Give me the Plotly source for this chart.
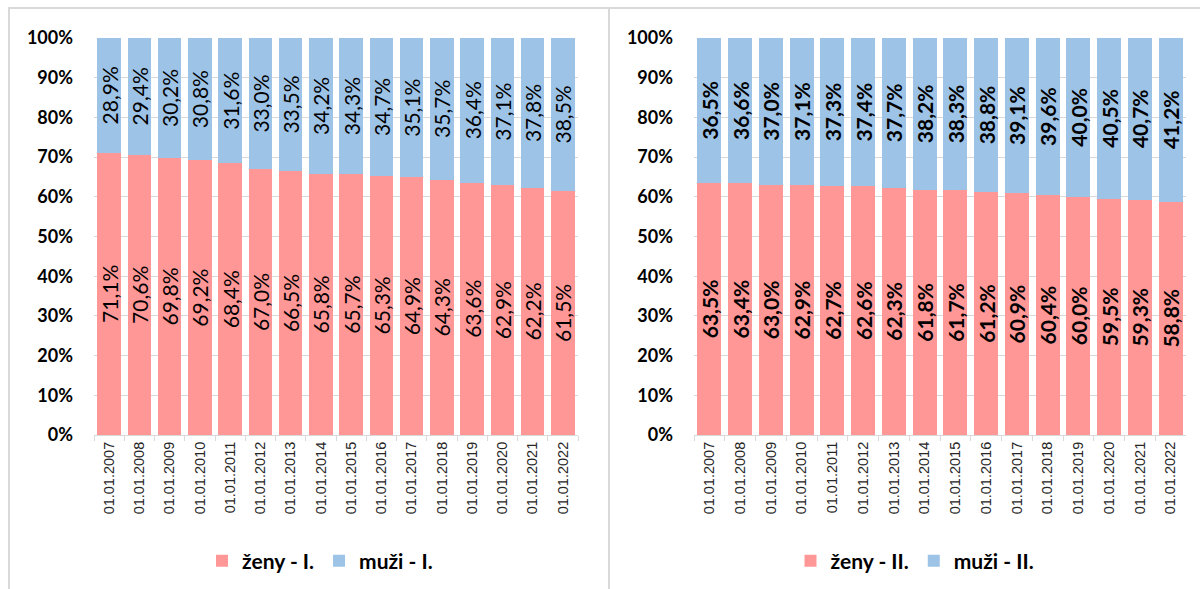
import plotly.graph_objects as go

dates = ["01.01.%d" % y for y in range(2007, 2023)]

zeny_I = [71.1, 70.6, 69.8, 69.2, 68.4, 67.0, 66.5, 65.8, 65.7, 65.3, 64.9, 64.3, 63.6, 62.9, 62.2, 61.5]
muzi_I = [28.9, 29.4, 30.2, 30.8, 31.6, 33.0, 33.5, 34.2, 34.3, 34.7, 35.1, 35.7, 36.4, 37.1, 37.8, 38.5]
zeny_II = [63.5, 63.4, 63.0, 62.9, 62.7, 62.6, 62.3, 61.8, 61.7, 61.2, 60.9, 60.4, 60.0, 59.5, 59.3, 58.8]
muzi_II = [36.5, 36.6, 37.0, 37.1, 37.3, 37.4, 37.7, 38.2, 38.3, 38.8, 39.1, 39.6, 40.0, 40.5, 40.7, 41.2]

PINK = "#FF9797"
BLUE = "#9DC3E6"
GRID = "#D9D9D9"
FONT = "Lato"
W, H = 1200, 589


def px(x):
    return x / W


def py(y):
    return 1 - y / H


def lab(vals):
    return [("%.1f%%" % v).replace(".", ",") for v in vals]


fig = go.Figure()


def add(vals, name, color, xa, ya, legend, bold):
    fig.add_trace(go.Bar(
        x=dates, y=[v / 100 for v in vals], name=name,
        marker=dict(color=color, line=dict(width=0)),
        text=lab(vals), textposition="inside", insidetextanchor="middle",
        textangle=-90, cliponaxis=False,
        textfont=dict(family=FONT, size=21, color="black",
                      weight="bold" if bold else "normal"),
        xaxis=xa, yaxis=ya, legend=legend, hoverinfo="skip",
    ))


add(zeny_I, "ženy - I.", PINK, "x", "y", "legend", False)
add(muzi_I, "muži - I.", BLUE, "x", "y", "legend", False)
add(zeny_II, "ženy - II.", PINK, "x2", "y2", "legend2", True)
add(muzi_II, "muži - II.", BLUE, "x2", "y2", "legend2", True)

ydom = [py(435), py(38)]
xcommon = dict(
    type="category", showgrid=False, showline=True, linecolor=GRID, linewidth=1,
    ticks="outside", tickson="boundaries", ticklen=5, tickcolor=GRID,
    tickangle=-90, tickfont=dict(family="Liberation Sans", size=14.5, color="#262626"),
    zeroline=False, automargin=False,
)
ycommon = dict(
    range=[0, 1], tickvals=[i / 10 for i in range(11)], tickformat=".0%",
    showgrid=True, gridcolor=GRID, gridwidth=1, zeroline=False, showline=False,
    ticks="", ticklabelstandoff=20, automargin=False,
    tickfont=dict(family=FONT, size=18, color="black", weight="bold"),
)

legfont = dict(family=FONT, size=21, color="black", weight="bold")

fig.update_layout(
    width=W, height=H, margin=dict(l=0, r=0, t=0, b=0, autoexpand=False),
    paper_bgcolor="white", plot_bgcolor="white",
    barmode="stack", bargap=0.22, separators=", ",
    xaxis=dict(domain=[px(94), px(578)], anchor="y", **xcommon),
    yaxis=dict(domain=ydom, anchor="x", **ycommon),
    xaxis2=dict(domain=[px(694), px(1186)], anchor="y2", **xcommon),
    yaxis2=dict(domain=ydom, anchor="x2", **ycommon),
    legend=dict(orientation="h", x=px(320), y=py(561), xanchor="center", yanchor="middle",
                font=legfont, traceorder="normal",
                itemclick=False, bgcolor="rgba(0,0,0,0)"),
    legend2=dict(orientation="h", x=px(915), y=py(561), xanchor="center", yanchor="middle",
                 font=legfont, traceorder="normal",
                 itemclick=False, bgcolor="rgba(0,0,0,0)"),
    uniformtext=dict(minsize=21, mode="show"),
    showlegend=True,
    shapes=[
        dict(type="rect", xref="paper", yref="paper", x0=px(9), x1=px(609), y0=py(600), y1=py(8),
             line=dict(color=GRID, width=2), layer="below"),
        dict(type="rect", xref="paper", yref="paper", x0=px(609), x1=px(1210), y0=py(600), y1=py(8),
             line=dict(color=GRID, width=2), layer="below"),
    ],
)

fig.write_html("out.html", config={"displayModeBar": False},
               post_script="document.body.style.margin='0';document.body.style.overflow='hidden';")
